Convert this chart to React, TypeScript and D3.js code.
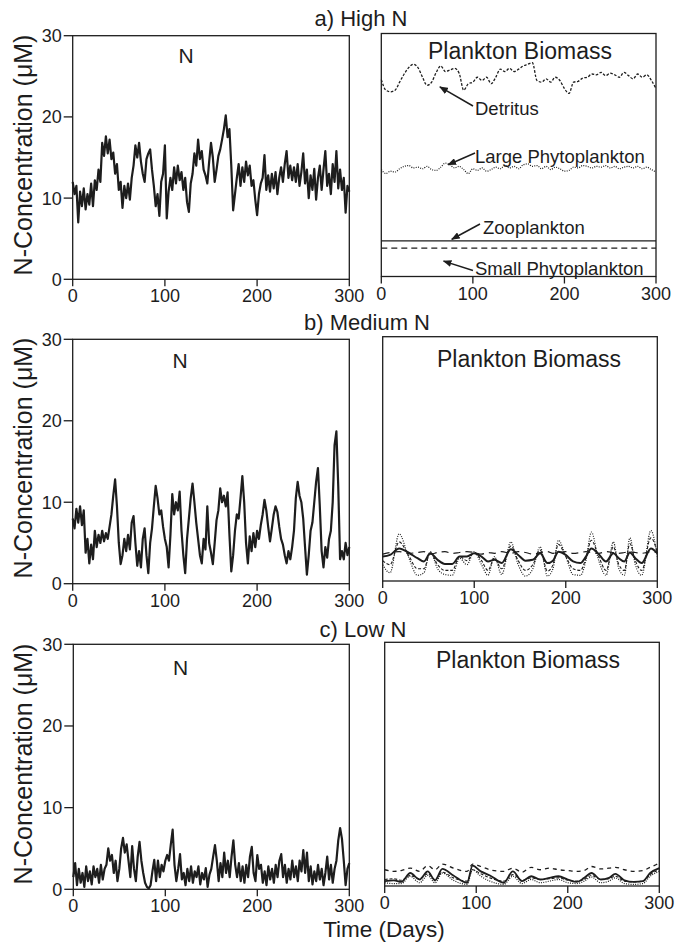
import React from 'react';
import * as d3 from 'd3';

// ---------- DATA ----------
const N_DAYS = d3.range(0, 301, 2);
const X_TICKS = [0, 100, 200, 300];
const Y_TICKS = [0, 10, 20, 30];

const N_HIGH = [
  12.0, 10.5, 11.5, 7.0, 10.8, 9.0, 11.2, 8.6, 10.5, 9.2,
  11.8, 9.0, 12.2, 11.0, 13.5, 12.0, 16.8, 15.2, 17.6, 15.5,
  17.2, 14.8, 15.6, 13.0, 14.2, 11.0, 12.0, 8.8, 11.5, 10.0,
  11.8, 9.8, 12.5, 14.0, 16.5, 15.0, 16.8, 14.5, 13.0, 12.0,
  14.8, 15.5, 16.0, 13.5, 11.5, 9.0, 10.5, 7.8, 12.0, 13.0,
  16.5, 7.5, 10.8, 12.5, 11.0, 13.8, 11.8, 14.0, 12.2, 13.2,
  11.0, 12.5, 9.5, 8.3, 11.8, 13.0, 15.5, 14.0, 17.2, 14.8,
  15.8, 13.5, 12.8, 11.8, 14.5, 16.8, 15.0, 12.0, 13.5, 15.2,
  16.0, 17.2, 18.5, 20.2, 17.5, 18.5, 14.0, 8.5, 10.5, 12.5,
  14.2, 11.5, 13.8, 12.0, 14.5, 12.8, 14.0, 11.5, 12.2, 9.8,
  7.9, 10.5, 11.8, 12.5, 15.3, 11.0, 12.8, 10.8, 13.0, 11.2,
  13.2, 10.5, 12.5, 13.8, 12.0, 14.2, 15.8, 12.5, 14.0, 12.2,
  13.8, 12.0, 14.2, 11.5, 13.2, 15.5, 11.8, 13.5, 10.0, 12.8,
  11.0, 13.6, 9.8, 12.5, 14.0, 11.0, 13.5, 15.8, 11.5, 13.0,
  10.5, 14.2, 12.0, 15.8, 11.2, 13.5, 11.0, 12.5, 8.2, 11.5,
  10.8,
];

const N_MED = [
  8.0, 6.8, 9.2, 7.5, 9.5, 7.2, 9.0, 3.8, 5.5, 2.5,
  4.8, 3.0, 6.5, 4.5, 6.0, 5.0, 6.5, 5.2, 6.2, 5.5,
  7.0, 8.5, 10.8, 12.8, 9.5, 5.0, 2.4, 3.5, 5.5, 4.0,
  6.0, 4.2, 7.5, 8.3, 5.0, 2.2, 4.0, 2.0, 5.5, 6.8,
  3.5, 1.3, 5.0, 6.8, 9.5, 12.0, 10.5, 8.5, 9.0, 7.0,
  5.5, 4.5, 2.0, 6.0, 11.0, 8.5, 10.0, 9.0, 11.3, 6.5,
  3.5, 1.3, 5.5, 8.0, 10.5, 12.3, 10.0, 7.5, 5.5, 3.5,
  2.5, 5.5, 4.2, 9.5, 5.0, 3.8, 2.4, 5.0, 7.8, 9.0,
  11.7, 10.0, 10.8, 9.5, 11.2, 6.0, 1.5, 3.5, 6.5, 8.5,
  8.0, 10.5, 13.2, 10.0, 5.0, 2.5, 5.8, 4.0, 6.2, 4.5,
  6.5, 5.5, 7.2, 8.5, 10.3, 9.0, 7.0, 5.2, 6.8, 8.5,
  9.5, 8.8, 7.0, 5.5, 4.8, 3.5, 2.5, 4.0, 3.0, 4.5,
  6.5, 10.5, 12.5, 10.8, 10.0, 8.0, 4.5, 1.1, 3.5, 6.5,
  7.5, 10.0, 12.5, 14.2, 9.5, 4.0, 2.0, 4.5, 3.2, 5.5,
  6.5, 10.0, 17.0, 18.7, 12.0, 3.0, 4.0, 3.0, 5.0, 3.5,
  4.5,
];

const N_LOW = [
  1.5, 3.2, 0.5, 2.5, 0.8, 2.0, 0.3, 2.8, 1.0, 2.2,
  0.6, 2.8, 1.5, 2.5, 0.8, 3.0, 1.2, 2.5, 3.0, 5.0,
  3.5, 4.2, 2.0, 3.5, 1.0, 2.5, 5.0, 6.3, 4.5, 5.5,
  3.5, 1.5, 5.3, 2.5, 1.0, 4.0, 5.8, 3.5, 2.0, 0.8,
  0.3, 0.1, 0.5, 2.2, 3.6, 1.0, 3.5, 1.5, 3.0, 2.2,
  3.5, 4.2, 3.5, 5.5, 7.3, 3.0, 1.0, 2.5, 4.3, 1.2,
  2.0, 0.5, 2.5, 1.0, 2.8, 0.8, 2.2, 1.5, 2.8, 0.6,
  2.0, 1.2, 2.6, 0.3, 1.8, 2.5, 4.0, 5.4, 3.5, 1.0,
  3.2, 1.5, 4.5, 2.0, 3.5, 1.5, 4.0, 6.0, 3.0, 1.5,
  3.2, 1.0, 2.8, 0.8, 3.0, 1.5, 4.0, 5.2, 2.0, 1.0,
  4.2, 2.5, 3.0, 0.8, 2.2, 0.5, 2.8, 1.2, 2.5, 0.8,
  3.0, 1.5, 3.5, 4.3, 1.5, 3.0, 0.8, 2.5, 1.2, 3.5,
  1.5, 2.8, 1.0, 3.5, 2.2, 4.8, 2.0, 4.5, 1.0, 2.8,
  0.6, 2.2, 1.0, 3.0, 1.2, 2.5, 0.5, 2.0, 4.0, 1.2,
  3.0, 0.8, 2.5, 3.5, 6.0, 7.5, 6.2, 3.5, 0.5, 2.5,
  3.2,
];

const HIGH_BIO_DAYS = d3.range(0, 301, 5);
const HIGH_DETRITUS = [
  24.3, 23.0, 22.8, 23.0, 24.0, 25.0, 25.8, 26.2, 25.8, 24.6,
  23.6, 24.0, 25.2, 26.0, 25.3, 25.5, 25.7, 25.1, 23.0, 23.8,
  24.0, 24.6, 24.2, 24.6, 23.8, 24.6, 25.6, 25.3, 25.7, 25.3,
  25.6, 26.0, 26.2, 26.4, 24.2, 24.0, 24.4, 24.0, 24.6, 24.2,
  23.2, 22.6, 24.0, 24.1, 24.5, 24.6, 25.0, 24.9, 25.2, 24.8,
  25.1, 24.9, 24.6, 25.2, 24.8, 24.4, 25.0, 24.6, 24.9, 24.2,
  23.2,
];
const HIGH_LARGE_PHYTO = [
  13.2, 12.7, 13.0, 12.9, 13.3, 13.6, 13.7, 13.4, 13.5, 13.3,
  13.6, 13.2, 13.1, 13.5, 14.0, 13.8, 13.4, 13.6, 13.2, 12.7,
  13.3, 13.1, 13.4, 13.0, 13.2, 13.5, 13.3, 13.7, 13.4, 13.6,
  13.3, 13.8, 13.9, 13.6, 13.7, 13.3, 13.6, 13.2, 13.5, 13.3,
  13.0, 13.1, 13.5, 13.4, 13.7, 13.6, 13.4, 13.6, 13.5, 13.7,
  13.4, 13.6, 13.3, 13.5, 13.6, 13.4, 13.6, 13.3, 13.5, 13.2,
  12.9,
];
const HIGH_FLAT_DAYS = [0, 100, 200, 300];
const HIGH_ZOO = [4.4, 4.4, 4.4, 4.4];
const HIGH_SMALL_PHYTO = [3.5, 3.5, 3.5, 3.5];

const MED_DAYS = [0, 8, 18, 28, 38, 45, 52, 60, 68, 76, 84, 92, 100, 108, 115, 122, 130, 140, 148, 156,
  164, 172, 180, 186, 192, 200, 208, 216, 222, 228, 236, 244, 252, 258, 264, 270, 276, 283, 293, 300];
const MED_LARGE_PHYTO = [2.0, 1.0, 5.8, 3.0, 0.7, 1.0, 3.6, 1.5, 0.8, 0.7, 2.8, 2.0, 3.6, 2.0, 0.7, 3.0, 0.8, 4.8, 2.0, 0.6,
  1.5, 4.2, 0.6, 1.5, 5.0, 3.0, 0.8, 0.7, 2.5, 6.0, 2.5, 0.7, 4.8, 1.5, 0.7, 5.3, 2.0, 0.7, 6.2, 3.0];
const MED_SMALL_PHYTO = [2.5, 2.0, 4.8, 3.2, 1.5, 1.5, 3.5, 2.0, 1.3, 1.3, 3.0, 2.5, 3.5, 2.5, 1.3, 2.8, 1.5, 4.3, 2.5, 1.3,
  2.0, 3.8, 1.2, 2.0, 4.5, 3.0, 1.5, 1.3, 2.8, 5.0, 3.0, 1.3, 4.2, 2.0, 1.3, 4.6, 2.5, 1.3, 5.3, 3.5];
const MED_ZOO = [3.0, 3.2, 4.0, 3.5, 2.8, 2.4, 3.4, 2.6, 2.1, 2.1, 3.0, 3.0, 3.4, 3.0, 2.4, 2.6, 2.2, 3.9, 3.2, 2.5,
  2.6, 3.4, 2.2, 2.5, 3.6, 3.2, 2.4, 2.2, 3.0, 4.0, 3.3, 2.4, 3.4, 2.8, 2.4, 3.5, 2.8, 2.2, 4.0, 3.4];
const MED_DETRITUS = [3.3, 3.5, 3.6, 3.4, 3.5, 3.6, 3.3, 3.5, 3.6, 3.4, 3.5, 3.6, 3.5, 3.3, 3.5, 3.4, 3.6, 3.4, 3.6, 3.5,
  3.3, 3.5, 3.6, 3.4, 3.5, 3.6, 3.4, 3.5, 3.6, 3.5, 3.4, 3.6, 3.5, 3.4, 3.5, 3.6, 3.5, 3.4, 3.6, 3.5];

const LOW_DAYS = [0, 10, 18, 28, 38, 47, 55, 63, 75, 90, 96, 105, 115, 130, 140, 150, 160, 170, 180, 190,
  200, 210, 218, 226, 236, 245, 252, 262, 272, 282, 290, 300];
const LOW_ZOO = [0.6, 0.7, 0.5, 1.6, 0.8, 1.8, 0.7, 2.1, 1.3, 0.4, 2.5, 1.8, 1.3, 0.4, 1.8, 0.6, 1.2, 0.8, 1.0, 1.2,
  0.8, 0.5, 1.0, 1.6, 0.8, 1.0, 1.5, 0.7, 0.5, 0.6, 1.6, 2.2];
const LOW_DETRITUS = [2.0, 1.8, 1.9, 2.2, 1.8, 2.5, 2.0, 2.7, 2.2, 1.8, 2.7, 2.4, 2.0, 1.8, 2.2, 1.7, 2.3, 2.0, 2.2, 2.0,
  1.9, 1.8, 1.9, 2.4, 2.1, 2.2, 2.3, 2.0, 1.8, 1.9, 2.3, 2.8];
const LOW_LARGE_PHYTO = [0.4, 0.3, 0.3, 1.2, 0.4, 1.3, 0.4, 1.6, 0.7, 0.2, 2.0, 1.2, 0.6, 0.2, 1.2, 0.3, 0.8, 0.4, 0.6, 0.8,
  0.4, 0.3, 0.6, 1.1, 0.4, 0.6, 1.0, 0.3, 0.2, 0.3, 1.2, 1.8];
const LOW_SMALL_PHYTO = [0.8, 0.9, 0.7, 1.3, 0.9, 1.5, 0.8, 1.7, 1.0, 0.6, 2.0, 1.5, 1.0, 0.6, 1.4, 0.7, 1.0, 0.8, 0.9, 1.0,
  0.7, 0.6, 0.8, 1.3, 0.8, 0.9, 1.2, 0.6, 0.5, 0.6, 1.4, 2.0];

const ROW_TITLES = ['a) High N', 'b) Medium N', 'c) Low N'];

// ---------- LAYOUT / STYLE ----------
const FONT = "'Liberation Sans', Arial, Helvetica, sans-serif";
const INK = '#1d1d1d';

type Box = { x0: number; x1: number; y0: number; y1: number };
type Series = { days: number[]; values: number[]; dash?: string; width: number };

const ROWS = [
  {
    titleX: 361, titleY: 26,
    left: { x0: 72.7, x1: 349.3, y0: 35.7, y1: 279.3 }, nX: 186, nY: 63, labelY: 155,
    right: { x0: 381.3, x1: 656, y0: 33.5, y1: 276.5 }, pbX: 520, pbY: 59,
    values: N_HIGH,
    series: [
      { days: HIGH_BIO_DAYS, values: HIGH_DETRITUS, dash: '2.6,1.6', width: 1.3 },
      { days: HIGH_BIO_DAYS, values: HIGH_LARGE_PHYTO, dash: '1,1.3', width: 1.2 },
      { days: HIGH_FLAT_DAYS, values: HIGH_ZOO, width: 1.4 },
      { days: HIGH_FLAT_DAYS, values: HIGH_SMALL_PHYTO, dash: '6,4', width: 1.3 },
    ] as Series[],
  },
  {
    titleX: 367, titleY: 330,
    left: { x0: 72.7, x1: 349.3, y0: 339.3, y1: 583.7 }, nX: 180, nY: 368, labelY: 458,
    right: { x0: 382.7, x1: 657.3, y0: 336.7, y1: 581 }, pbX: 529, pbY: 366.5,
    values: N_MED,
    series: [
      { days: MED_DAYS, values: MED_DETRITUS, dash: '7,5', width: 1.2 },
      { days: MED_DAYS, values: MED_LARGE_PHYTO, dash: '1,1.4', width: 1.2 },
      { days: MED_DAYS, values: MED_SMALL_PHYTO, dash: '3,1.8', width: 1.1 },
      { days: MED_DAYS, values: MED_ZOO, width: 2 },
    ] as Series[],
  },
  {
    titleX: 363, titleY: 637,
    left: { x0: 73.3, x1: 349.3, y0: 644.3, y1: 889.3 }, nX: 180.5, nY: 675, labelY: 764,
    right: { x0: 384.7, x1: 659.3, y0: 642.3, y1: 886 }, pbX: 528, pbY: 668,
    values: N_LOW,
    series: [
      { days: LOW_DAYS, values: LOW_DETRITUS, dash: '4,4', width: 1.3 },
      { days: LOW_DAYS, values: LOW_LARGE_PHYTO, dash: '1,1.3', width: 1.2 },
      { days: LOW_DAYS, values: LOW_SMALL_PHYTO, dash: '3,1.8', width: 1.1 },
      { days: LOW_DAYS, values: LOW_ZOO, width: 1.8 },
    ] as Series[],
  },
];

function XAxis({ box }: { box: Box }) {
  const x = d3.scaleLinear().domain([0, 300]).range([box.x0, box.x1]);
  return (
    <g>
      {X_TICKS.map((t) => (
        <g key={t}>
          <line x1={x(t)} x2={x(t)} y1={box.y1} y2={box.y1 + 7} stroke={INK} strokeWidth={1.3} />
          <text x={x(t)} y={box.y1 + 23} textAnchor="middle" fontSize={18}>{t}</text>
        </g>
      ))}
    </g>
  );
}

function Frame({ box }: { box: Box }) {
  return (
    <rect x={box.x0} y={box.y0} width={box.x1 - box.x0} height={box.y1 - box.y0}
      fill="none" stroke={INK} strokeWidth={1.3} />
  );
}

function NPanel({ box, values, nX, nY, labelY }: { box: Box; values: number[]; nX: number; nY: number; labelY: number }) {
  const x = d3.scaleLinear().domain([0, 300]).range([box.x0, box.x1]);
  const y = d3.scaleLinear().domain([0, 30]).range([box.y1, box.y0]);
  const line = d3.line<number>().x((_, i) => x(N_DAYS[i])).y((d) => y(d));
  return (
    <g>
      <path d={line(values) || ''} fill="none" stroke={INK} strokeWidth={2.2} strokeLinejoin="round" />
      <Frame box={box} />
      {Y_TICKS.map((t) => (
        <g key={t}>
          <line x1={box.x0 - 9} x2={box.x0} y1={y(t)} y2={y(t)} stroke={INK} strokeWidth={1.3} />
          <text x={box.x0 - 11} y={y(t)} dy="0.36em" textAnchor="end" fontSize={18}>{t}</text>
        </g>
      ))}
      <XAxis box={box} />
      <text x={nX} y={nY} textAnchor="middle" fontSize={21}>N</text>
      <text transform={`translate(32,${labelY}) rotate(-90)`} textAnchor="middle" fontSize={25}>
        N-Concentration (μM)
      </text>
    </g>
  );
}

function BioPanel({ box, series, pbX, pbY, annotate }: { box: Box; series: Series[]; pbX: number; pbY: number; annotate: boolean }) {
  const x = d3.scaleLinear().domain([0, 300]).range([box.x0, box.x1]);
  const y = d3.scaleLinear().domain([0, 30]).range([box.y1, box.y0]);
  const notes = [
    { label: 'Detritus', tx: 475, ty: 115, from: [473, 106], to: [64, 23.4] },
    { label: 'Large Phytoplankton', tx: 475, ty: 163, from: [475, 153], to: [73, 13.8] },
    { label: 'Zooplankton', tx: 483, ty: 234, from: [480, 224], to: [77, 4.6] },
    { label: 'Small Phytoplankton', tx: 475, ty: 275, from: [473, 270.5], to: [68, 1.9] },
  ];
  return (
    <g>
      {series.map((s, i) => {
        const line = d3.line<number>().x((_, j) => x(s.days[j])).y((d) => y(d)).curve(d3.curveMonotoneX);
        return (
          <path key={i} d={line(s.values) || ''} fill="none" stroke={INK} strokeWidth={s.width}
            strokeDasharray={s.dash} strokeLinejoin="round" />
        );
      })}
      <Frame box={box} />
      <XAxis box={box} />
      <text x={pbX} y={pbY} textAnchor="middle" fontSize={23}>Plankton Biomass</text>
      {annotate && notes.map((n) => (
        <g key={n.label}>
          <line x1={n.from[0]} y1={n.from[1]} x2={x(n.to[0])} y2={y(n.to[1])} stroke={INK}
            strokeWidth={1.5} markerEnd="url(#arrow)" />
          <text x={n.tx} y={n.ty} fontSize={18.5}>{n.label}</text>
        </g>
      ))}
    </g>
  );
}

export default function App() {
  return (
    <svg width={676} height={942} viewBox="0 0 676 942"
      style={{ position: 'absolute', left: 0, top: 0, background: '#fff' }}
      fontFamily={FONT} fill={INK}>
      <defs>
        <marker id="arrow" viewBox="0 0 10 8" refX={9} refY={4} markerWidth={9} markerHeight={7}
          markerUnits="userSpaceOnUse" orient="auto">
          <path d="M0,0 L10,4 L0,8 Z" fill={INK} />
        </marker>
      </defs>
      <rect x={0} y={0} width={676} height={942} fill="#fff" />
      {ROWS.map((r, i) => (
        <g key={i}>
          <text x={r.titleX} y={r.titleY} textAnchor="middle" fontSize={22}>{ROW_TITLES[i]}</text>
          <NPanel box={r.left} values={r.values} nX={r.nX} nY={r.nY} labelY={r.labelY} />
          <BioPanel box={r.right} series={r.series} pbX={r.pbX} pbY={r.pbY} annotate={i === 0} />
        </g>
      ))}
      <text x={384} y={937} textAnchor="middle" fontSize={22.5}>Time (Days)</text>
    </svg>
  );
}
